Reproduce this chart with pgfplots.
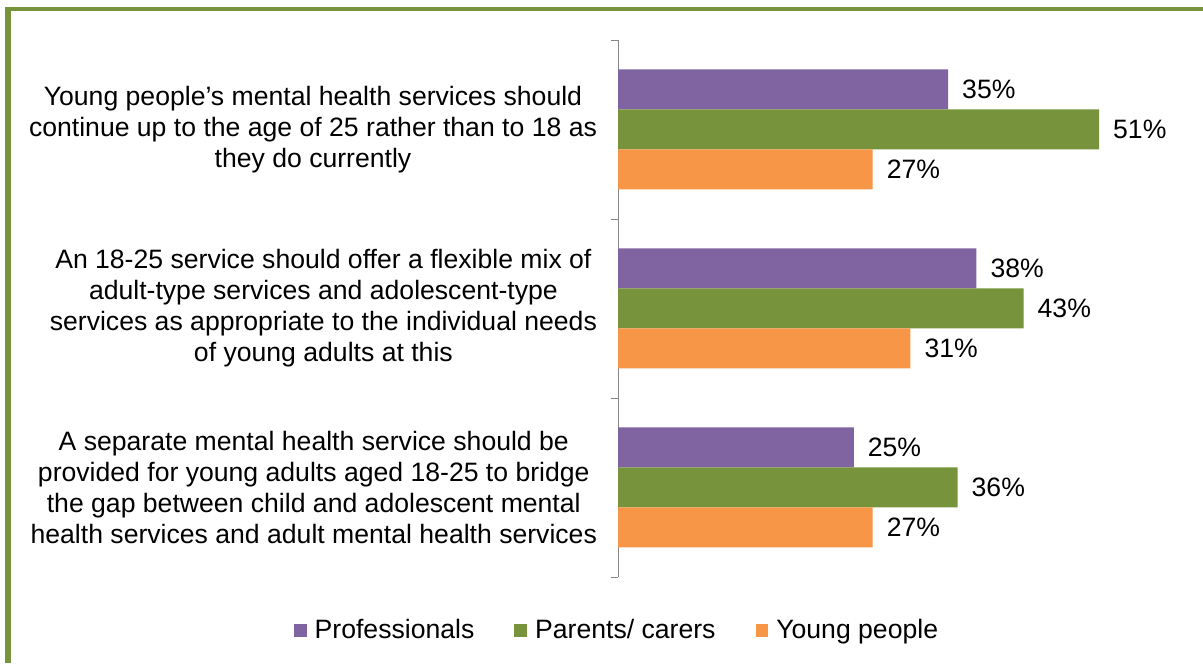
\documentclass[border=0pt]{standalone}
\usepackage{pgfplots}
\pgfplotsset{compat=1.18}
\usepackage{fontspec}
\setmainfont{Liberation Sans}
\definecolor{cpurple}{HTML}{8064A2}
\definecolor{cgreen}{HTML}{77933C}
\definecolor{corange}{HTML}{F79646}
\definecolor{axgray}{HTML}{868686}
\newcommand{\lbl}{\fontsize{13.3}{15.5}\selectfont}
\begin{document}
\begin{tikzpicture}
\path[use as bounding box] (0,0) rectangle (601.5pt,331.5pt);
\fill[cgreen] (2.5pt,0pt) rectangle (5.5pt,327.85pt);
\fill[cgreen] (2.5pt,326.15pt) rectangle (601.5pt,327.85pt);
\begin{axis}[
  at={(309pt,43pt)}, anchor=south west,
  scale only axis, width=283pt, height=268.5pt,
  xbar=0pt, bar width=20pt,
  xmin=0, xmax=60, ymin=-0.5, ymax=2.5,
  axis x line=none,
  axis y line*=left,
  y axis line style={draw=axgray,-},
  ytick={0,1,2},
  minor ytick={-0.5,0.5,1.5,2.5},
  major y tick style={draw=none},
  minor y tick style={draw=axgray},
  minor tick length=3.5pt,
  major tick length=0pt,
  tick align=outside,
  yticklabels={
    {A separate mental health service should be\\provided for young adults aged 18-25 to bridge\\the gap between child and adolescent mental\\health services and adult mental health services},
    {An 18-25 service should offer a flexible mix of\\adult-type services and adolescent-type\\services as appropriate to the individual needs\\of young adults at this},
    {Young people’s mental health services should\\continue up to the age of 25 rather than to 18 as\\they do currently}},
  yticklabel style={align=center, font=\lbl, text=black, xshift=-7pt},
  /pgf/number format/assume math mode=true,
  nodes near coords={\pgfmathprintnumber{\pgfplotspointmeta}\%},
  nodes near coords style={font=\lbl, text=black, anchor=west, xshift=3.5pt},
  legend style={at={(0.0,-0.099)}, anchor=center, draw=none, fill=none,
    legend columns=-1, font=\lbl,
    /tikz/every even column/.append style={column sep=18pt}},
  legend image code/.code={\fill[#1] (0pt,-3.2pt) rectangle (6.4pt,3.2pt);},
  legend style={/tikz/every odd column/.append style={column sep=2pt}},
]
\addplot[fill=cpurple, draw=none, bar shift=20pt] coordinates {(35,2) (38,1) (25,0)};
\addplot[fill=cgreen, draw=none, bar shift=0pt] coordinates {(51,2) (43,1) (36,0)};
\addplot[fill=corange, draw=none, bar shift=-20pt] coordinates {(27,2) (31,1) (27,0)};
\legend{Professionals, Parents/ carers, Young people}
\end{axis}
\end{tikzpicture}
\end{document}
